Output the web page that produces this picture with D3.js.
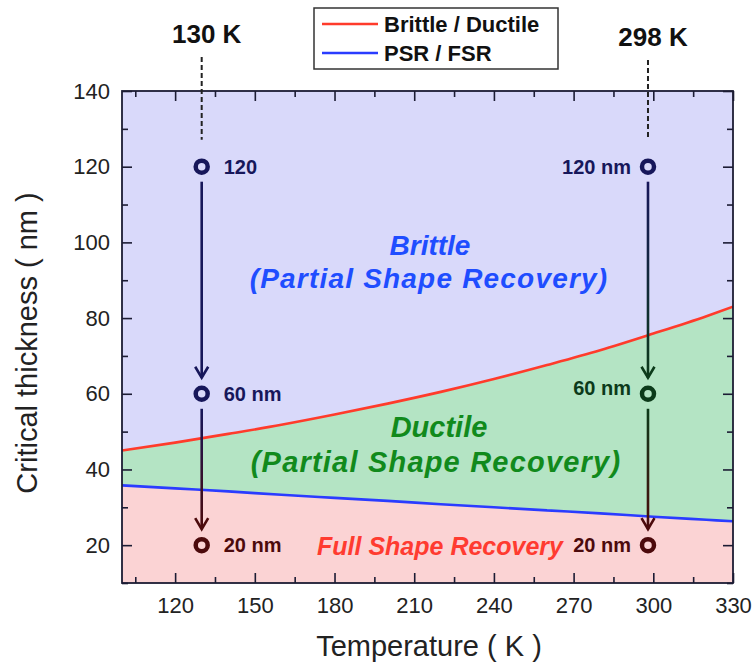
<!DOCTYPE html>
<html>
<head>
<meta charset="utf-8">
<script src="https://cdn.jsdelivr.net/npm/d3@7"></script>
<style>
  body { margin: 0; background: #fff; }
  svg { display: block; font-family: "Liberation Sans", Arial, sans-serif; }
</style>
</head>
<body>
<svg id="chart" width="753" height="664"></svg>
<script>
// Phase boundaries: critical thickness (nm) versus temperature (K)
const temperatures   = [100, 120, 140, 160, 180, 200, 220, 240, 260, 280, 300, 320, 330];
const brittleDuctile = [45.0, 47.1, 49.4, 51.8, 54.5, 57.4, 60.5, 63.9, 67.6, 71.5, 75.9, 80.5, 83.0];
const psrFsr         = [35.8, 35.0, 34.2, 33.3, 32.5, 31.7, 30.8, 30.0, 29.2, 28.4, 27.5, 26.7, 26.3];

const xMajorTicks = [120, 150, 180, 210, 240, 270, 300, 330];
const xMinorTicks = [105, 135, 165, 195, 225, 255, 285, 315];
const yMajorTicks = [20, 40, 60, 80, 100, 120, 140];
const yMinorTicks = [10, 30, 50, 70, 90, 110, 130];

const seriesNames = ["Brittle / Ductile", "PSR / FSR"];

// Pillar-thickness paths at two test temperatures
const columnTemps  = [130, 298];
const columnTitles = ["130 K", "298 K"];
const thicknessSteps = [120, 60, 20];
const pointLabels = [["120", "60 nm", "20 nm"], ["120 nm", "60 nm", "20 nm"]];

const regionLabels = [
  ["Brittle", "(Partial Shape Recovery)"],
  ["Ductile", "(Partial Shape Recovery)"],
  ["Full Shape Recovery"]
];

const W = 753, H = 664;
const M = { left: 122, right: 20, top: 91, bottom: 81 };
const x = d3.scaleLinear().domain([100, 330]).range([M.left, W - M.right]);
const y = d3.scaleLinear().domain([10, 140]).range([H - M.bottom, M.top]);

const svg = d3.select("#chart");
const defs = svg.append("defs");
defs.append("clipPath").attr("id", "plotClip")
  .append("rect").attr("x", x(100)).attr("y", y(140))
  .attr("width", x(330) - x(100)).attr("height", y(10) - y(140));

const colors = {
  brittleFill: "#d9d9fa",
  ductileFill: "#b4e4c4",
  fullFill: "#fbd3d4",
  redLine: "#ff3b2b",
  blueLine: "#2a3cff",
  frame: "#1c1c34",
  navy: "#17175a",
  darkGreen: "#0c3a1a",
  darkRed: "#4c0a0c"
};

const rows = temperatures.map((t, i) => ({ t, bd: brittleDuctile[i], pf: psrFsr[i] }));
const curve = d3.curveMonotoneX;

const plot = svg.append("g").attr("clip-path", "url(#plotClip)");

plot.append("path").datum(rows)
  .attr("fill", colors.brittleFill)
  .attr("d", d3.area().curve(curve).x(d => x(d.t)).y0(d => y(d.bd)).y1(y(140)));
plot.append("path").datum(rows)
  .attr("fill", colors.ductileFill)
  .attr("d", d3.area().curve(curve).x(d => x(d.t)).y0(d => y(d.pf)).y1(d => y(d.bd)));
plot.append("path").datum(rows)
  .attr("fill", colors.fullFill)
  .attr("d", d3.area().curve(curve).x(d => x(d.t)).y0(y(10)).y1(d => y(d.pf)));

plot.append("path").datum(rows)
  .attr("fill", "none").attr("stroke", colors.redLine).attr("stroke-width", 2.6)
  .attr("d", d3.line().curve(curve).x(d => x(d.t)).y(d => y(d.bd)));
plot.append("path").datum(rows)
  .attr("fill", "none").attr("stroke", colors.blueLine).attr("stroke-width", 2.6)
  .attr("d", d3.line().curve(curve).x(d => x(d.t)).y(d => y(d.pf)));

// Region names
const regionText = svg.append("g").attr("font-weight", "bold").attr("font-style", "italic")
  .attr("text-anchor", "middle");
regionText.append("text").attr("x", 430).attr("y", 255).attr("font-size", 28)
  .attr("fill", "#1f4dff").text(regionLabels[0][0]);
regionText.append("text").attr("x", 429).attr("y", 288).attr("font-size", 28).attr("letter-spacing", 1.2)
  .attr("fill", "#1f4dff").text(regionLabels[0][1]);
regionText.append("text").attr("x", 439).attr("y", 437).attr("font-size", 29)
  .attr("fill", "#118a1c").text(regionLabels[1][0]);
regionText.append("text").attr("x", 436).attr("y", 472).attr("font-size", 29).attr("letter-spacing", 1.2)
  .attr("fill", "#118a1c").text(regionLabels[1][1]);
regionText.append("text").attr("x", 440).attr("y", 555).attr("font-size", 25)
  .attr("fill", "#ff3b30").text(regionLabels[2][0]);

// Axes with inward ticks on all four sides
function styleAxis(g) {
  g.select(".domain").remove();
  g.selectAll("line").attr("stroke", colors.frame).attr("stroke-width", 1.6);
  g.selectAll("text").attr("fill", "#222").attr("font-size", 22)
    .attr("font-family", "\"Liberation Sans\", Arial, sans-serif");
}
const axes = svg.append("g");
axes.append("g").attr("transform", `translate(0,${y(10)})`)
  .call(d3.axisBottom(x).tickValues(xMajorTicks).tickSize(-10).tickPadding(14)).call(styleAxis);
axes.append("g").attr("transform", `translate(0,${y(10)})`)
  .call(d3.axisBottom(x).tickValues(xMinorTicks).tickSize(-6).tickFormat("")).call(styleAxis);
axes.append("g").attr("transform", `translate(0,${y(140)})`)
  .call(d3.axisTop(x).tickValues(xMajorTicks).tickSize(-10).tickFormat("")).call(styleAxis);
axes.append("g").attr("transform", `translate(0,${y(140)})`)
  .call(d3.axisTop(x).tickValues(xMinorTicks).tickSize(-6).tickFormat("")).call(styleAxis);
axes.append("g").attr("transform", `translate(${x(100)},0)`)
  .call(d3.axisLeft(y).tickValues(yMajorTicks).tickSize(-10).tickPadding(12)).call(styleAxis);
axes.append("g").attr("transform", `translate(${x(100)},0)`)
  .call(d3.axisLeft(y).tickValues(yMinorTicks).tickSize(-6).tickFormat("")).call(styleAxis);
axes.append("g").attr("transform", `translate(${x(330)},0)`)
  .call(d3.axisRight(y).tickValues(yMajorTicks).tickSize(-10).tickFormat("")).call(styleAxis);
axes.append("g").attr("transform", `translate(${x(330)},0)`)
  .call(d3.axisRight(y).tickValues(yMinorTicks).tickSize(-6).tickFormat("")).call(styleAxis);

// Plot frame
svg.append("rect").attr("x", x(100)).attr("y", y(140))
  .attr("width", x(330) - x(100)).attr("height", y(10) - y(140))
  .attr("fill", "none").attr("stroke", colors.frame).attr("stroke-width", 1.8);

// Axis titles
svg.append("text").attr("x", 429).attr("y", 656).attr("text-anchor", "middle")
  .attr("font-size", 29).attr("fill", "#222").text("Temperature ( K )");
svg.append("text").attr("transform", "translate(37,343) rotate(-90)").attr("text-anchor", "middle")
  .attr("font-size", 29).attr("fill", "#222").text("Critical thickness ( nm )");

// Thickness paths: markers, arrows and labels
const pointColors = [
  [colors.navy, colors.navy, colors.darkRed],
  [colors.navy, colors.darkGreen, colors.darkRed]
];
const labelSide = [1, -1];
const labelGap = [22, 17];
const labelShift = [[0, 0, 0], [0, -6, 0]];

columnTemps.forEach((temp, c) => {
  const cx = x(temp);
  const g = svg.append("g");

  // column heading and dashed guide
  g.append("text").attr("x", cx + 5).attr("y", c === 0 ? 43 : 46).attr("text-anchor", "middle")
    .attr("font-size", 26).attr("font-weight", "bold").attr("fill", "#111").text(columnTitles[c]);
  g.append("line").attr("x1", cx).attr("x2", cx)
    .attr("y1", (c === 0 ? 43 : 46) + 14).attr("y2", y(thicknessSteps[0]) - 27)
    .attr("stroke", "#222").attr("stroke-width", 2).attr("stroke-dasharray", "5,3");

  // arrows between successive thicknesses
  for (let i = 0; i < thicknessSteps.length - 1; i++) {
    const y0 = y(thicknessSteps[i]) + 15;
    const y1 = y(thicknessSteps[i + 1]) - 16;
    const gid = `arrowGrad${c}${i}`;
    const grad = defs.append("linearGradient").attr("id", gid)
      .attr("gradientUnits", "userSpaceOnUse")
      .attr("x1", cx).attr("x2", cx).attr("y1", y0).attr("y2", y1);
    grad.append("stop").attr("offset", "0%").attr("stop-color", pointColors[c][i]);
    grad.append("stop").attr("offset", "100%").attr("stop-color", pointColors[c][i + 1]);
    g.append("line").attr("x1", cx).attr("x2", cx).attr("y1", y0).attr("y2", y1)
      .attr("stroke", `url(#${gid})`).attr("stroke-width", 2.6);
    g.append("path")
      .attr("d", `M${cx - 6.5},${y1 - 11}L${cx},${y1}L${cx + 6.5},${y1 - 11}`)
      .attr("fill", "none").attr("stroke", pointColors[c][i + 1]).attr("stroke-width", 2.6);
  }

  // ring markers with labels
  thicknessSteps.forEach((th, i) => {
    g.append("circle").attr("cx", cx).attr("cy", y(th)).attr("r", 6)
      .attr("fill", "none").attr("stroke", pointColors[c][i]).attr("stroke-width", 4.5);
    g.append("text")
      .attr("x", cx + labelSide[c] * labelGap[c])
      .attr("y", y(th) + labelShift[c][i])
      .attr("dy", "0.36em")
      .attr("text-anchor", labelSide[c] > 0 ? "start" : "end")
      .attr("font-size", 20).attr("font-weight", "bold")
      .attr("fill", pointColors[c][i]).text(pointLabels[c][i]);
  });
});

// Legend
const legend = svg.append("g");
legend.append("rect").attr("x", 314).attr("y", 8).attr("width", 244).attr("height", 61)
  .attr("fill", "#fff").attr("stroke", "#333").attr("stroke-width", 1.5);
const legendColors = [colors.redLine, colors.blueLine];
seriesNames.forEach((name, i) => {
  const ly = 24 + i * 29;
  legend.append("line").attr("x1", 322).attr("x2", 378).attr("y1", ly).attr("y2", ly)
    .attr("stroke", legendColors[i]).attr("stroke-width", 2.6);
  legend.append("text").attr("x", 384).attr("y", ly + 8).attr("font-size", 22)
    .attr("font-weight", "bold").attr("fill", "#111").text(name);
});
</script>
</body>
</html>
